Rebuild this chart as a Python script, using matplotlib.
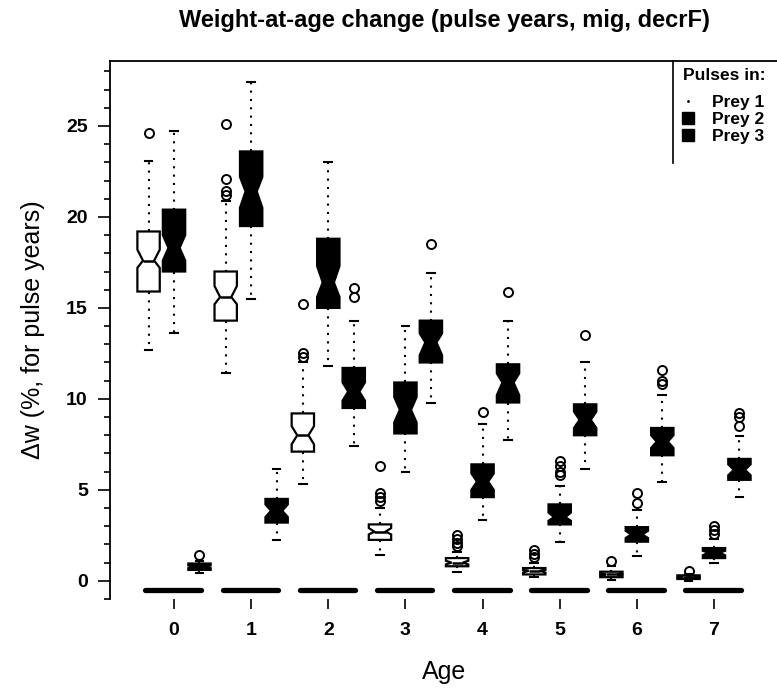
import numpy as np
import matplotlib
matplotlib.use('Agg')
import matplotlib.pyplot as plt
from matplotlib.lines import Line2D

plt.rcParams['font.family'] = ['Liberation Sans', 'DejaVu Sans']

# Ages on the x axis
ages = [0, 1, 2, 3, 4, 5, 6, 7]

# Prey 1 pulse boxes (left, white)
p1_whislo = [12.7, 11.4, 5.3, 1.4, 0.5, 0.2, 0.05, 0.0]
p1_q1     = [15.9, 14.3, 7.1, 2.25, 0.8, 0.35, 0.2, 0.1]
p1_cilo   = [17.2, 15.2, 7.5, 2.55, 0.9, 0.45, 0.3, 0.15]
p1_med    = [17.6, 15.6, 8.0, 2.7, 1.0, 0.55, 0.35, 0.2]
p1_cihi   = [18.2, 16.2, 8.5, 2.9, 1.1, 0.6, 0.4, 0.25]
p1_q3     = [19.2, 17.0, 9.2, 3.1, 1.25, 0.7, 0.5, 0.3]
p1_whishi = [23.1, 20.9, 12.0, 4.0, 1.6, 1.0, 0.8, 0.4]
p1_fliers = [[24.6], [21.2, 21.4, 22.1, 25.1], [12.3, 12.5, 15.2], [4.4, 4.6, 4.8, 6.3],
             [1.9, 2.1, 2.3, 2.5], [1.3, 1.5, 1.7], [1.1], [0.55]]

# Prey 2 pulse boxes (middle, black)
p2_whislo = [13.6, 15.5, 11.8, 6.0, 3.35, 2.15, 1.35, 1.0]
p2_q1     = [17.0, 19.5, 15.0, 8.1, 4.6, 3.1, 2.15, 1.25]
p2_cilo   = [17.6, 20.5, 15.6, 8.7, 5.0, 3.3, 2.35, 1.4]
p2_med    = [18.3, 21.4, 16.4, 9.4, 5.45, 3.5, 2.55, 1.55]
p2_cihi   = [19.0, 22.2, 17.3, 10.1, 5.9, 3.75, 2.75, 1.65]
p2_q3     = [20.4, 23.6, 18.8, 10.9, 6.4, 4.2, 2.95, 1.8]
p2_whishi = [24.7, 27.4, 23.0, 14.0, 8.6, 5.2, 3.9, 2.3]
p2_fliers = [[], [], [], [], [9.3], [5.8, 6.0, 6.3, 6.6], [4.3, 4.8], [2.6, 2.8, 3.0]]

# Prey 3 pulse boxes (right, black)
p3_whislo = [0.45, 2.25, 7.4, 9.8, 7.75, 6.15, 5.45, 4.6]
p3_q1     = [0.6, 3.2, 9.5, 12.0, 9.8, 8.0, 6.9, 5.55]
p3_cilo   = [0.7, 3.5, 9.9, 12.4, 10.2, 8.4, 7.3, 5.8]
p3_med    = [0.8, 3.85, 10.4, 13.1, 10.9, 8.85, 7.65, 6.1]
p3_cihi   = [0.85, 4.2, 10.9, 13.6, 11.4, 9.3, 8.0, 6.4]
p3_q3     = [0.95, 4.5, 11.7, 14.3, 11.9, 9.7, 8.4, 6.7]
p3_whishi = [1.1, 6.15, 14.3, 16.9, 14.3, 12.0, 10.2, 7.95]
p3_fliers = [[1.4], [], [15.6, 16.1], [18.5], [15.9], [13.5], [10.8, 11.0, 11.6], [8.5, 9.0, 9.2]]

# no-pulse reference value drawn under each age group
zero_line = [-0.5, -0.5, -0.5, -0.5, -0.5, -0.5, -0.5, -0.5]


def make_stats(whislo, q1, cilo, med, cihi, q3, whishi, fliers):
    stats = []
    for i in range(len(med)):
        stats.append({'whislo': whislo[i], 'q1': q1[i], 'cilo': cilo[i], 'med': med[i],
                      'cihi': cihi[i], 'q3': q3[i], 'whishi': whishi[i],
                      'fliers': np.array(fliers[i])})
    return stats


series = [
    (make_stats(p1_whislo, p1_q1, p1_cilo, p1_med, p1_cihi, p1_q3, p1_whishi, p1_fliers), -0.33, 'white'),
    (make_stats(p2_whislo, p2_q1, p2_cilo, p2_med, p2_cihi, p2_q3, p2_whishi, p2_fliers), 0.0, 'black'),
    (make_stats(p3_whislo, p3_q1, p3_cilo, p3_med, p3_cihi, p3_q3, p3_whishi, p3_fliers), 0.33, 'black'),
]

fig = plt.figure(figsize=(7.77, 6.91), dpi=100)
ax = fig.add_axes([110/777, 1 - 599/691, (778 - 110)/777, (599 - 61)/691])

x = np.array(ages, dtype=float)

for stats, offset, fill in series:
    ax.bxp(stats, positions=x + offset, widths=0.29, shownotches=True, patch_artist=True,
           capwidths=0.1, manage_ticks=False,
           boxprops=dict(facecolor=fill, edgecolor='black', linewidth=1.6),
           medianprops=dict(color='black', linewidth=1.8),
           whiskerprops=dict(color='black', linewidth=1.5, linestyle=(0, (1, 3))),
           capprops=dict(color='black', linewidth=1.5),
           flierprops=dict(marker='o', markerfacecolor='none', markeredgecolor='black',
                           markersize=6.5, markeredgewidth=1.4))

base = ax.hlines(zero_line, x - 0.37, x + 0.35, colors='black', linewidth=3.8)
base.set_capstyle('round')

ax.set_xlim(-0.83, 7.83)
ax.set_ylim(-0.99, 28.57)

ax.set_xticks(ages)
ax.set_xticklabels([str(a) for a in ages])
ax.set_yticks([0, 5, 10, 15, 20, 25])
ax.set_yticks(np.arange(-1, 29), minor=True)

ax.spines['bottom'].set_visible(False)
ax.spines['right'].set_visible(False)
ax.spines['left'].set_linewidth(1.3)
ax.spines['top'].set_linewidth(1.3)

ax.tick_params(axis='x', direction='out', length=7.5, width=1.2, pad=9, labelsize=14)
ax.tick_params(axis='y', which='major', direction='out', length=9, width=1.2, pad=7, labelsize=14)
ax.tick_params(axis='y', which='minor', direction='out', length=4, width=1.2)
for lab in ax.get_xticklabels() + ax.get_yticklabels():
    lab.set_fontweight('bold')

ax.set_xlabel('Age', fontsize=18, va='center')
ax.xaxis.set_label_coords(0.5, (599 - 672)/538)
ax.set_ylabel('Δw (%, for pulse years)', fontsize=18, va='center')
ax.yaxis.set_label_coords((33 - 110)/668, 0.5)

fig.text(444/777, 1 - 21/691, 'Weight-at-age change (pulse years, mig, decrF)',
         ha='center', va='center', fontsize=17, fontweight='bold')

# legend, with only its left edge drawn
fig.text(683/777, 1 - 75/691, 'Pulses in:', ha='left', va='center',
         fontsize=12.5, fontweight='bold')
handles = [
    Line2D([], [], marker='.', markersize=2, color='black', linestyle='none'),
    Line2D([], [], marker='s', markersize=9, color='black', linestyle='none'),
    Line2D([], [], marker='s', markersize=9, color='black', linestyle='none'),
]
leg = ax.legend(handles, ['Prey 1', 'Prey 2', 'Prey 3'],
                loc='upper left', bbox_to_anchor=(681/777, 1 - 95/691),
                bbox_transform=fig.transFigure, frameon=False,
                prop=dict(weight='bold', size=12.5),
                handlelength=0.8, handletextpad=1.0, labelspacing=0.1,
                borderaxespad=0, borderpad=0)
fig.add_artist(Line2D([673/777, 673/777], [1 - 61/691, 1 - 163/691],
                      transform=fig.transFigure, color='black', linewidth=1.2))

fig.savefig('out.png', dpi=100)
